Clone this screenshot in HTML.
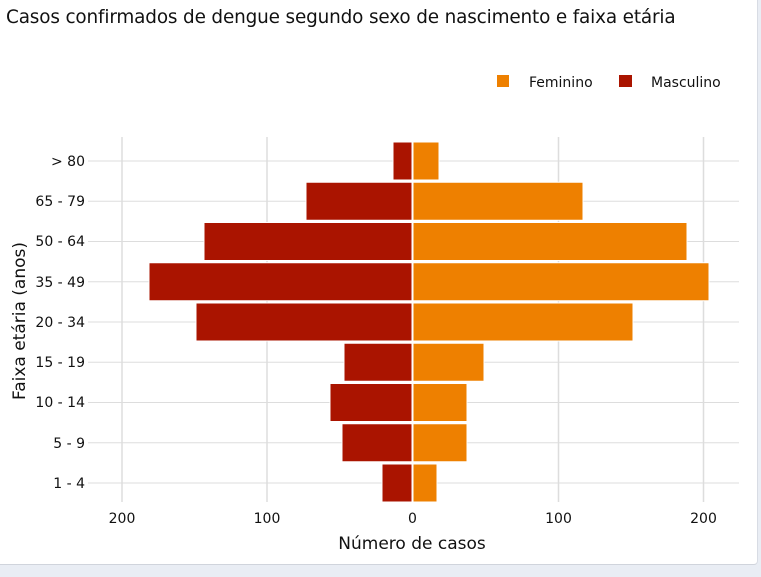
<!DOCTYPE html>
<html><head><meta charset="utf-8"><style>
html,body{margin:0;padding:0;background:#e9edf4;}
.card{position:absolute;left:0;top:0;width:757px;height:564px;background:#fff;border-right:1px solid #d8dce4;border-bottom:1px solid #d0d4dc;border-radius:0 0 4px 0;}
svg{position:absolute;left:0;top:0;font-family:"DejaVu Sans","Liberation Sans",sans-serif;}
</style></head><body>
<div class="card"></div>
<svg width="761" height="577" viewBox="0 0 761 577">
<text x="6" y="23" font-size="18.4" fill="#111" letter-spacing="-0.15">Casos confirmados de dengue segundo sexo de nascimento e faixa etária</text>
<rect x="497" y="75" width="12" height="12" fill="#ee8000"/>
<text x="529" y="87" font-size="14" fill="#111">Feminino</text>
<rect x="619" y="75" width="13" height="12" fill="#aa1400"/>
<text x="651" y="87" font-size="14" fill="#111">Masculino</text>
<g stroke="#dddddd" stroke-width="1.5">
<line x1="122" y1="137" x2="122" y2="502"/><line x1="267" y1="137" x2="267" y2="502"/>
<line x1="558.5" y1="137" x2="558.5" y2="502"/><line x1="703.5" y1="137" x2="703.5" y2="502"/>
</g>
<g stroke="#dddddd" stroke-width="1">
<line x1="88" y1="161" x2="739" y2="161"/><line x1="88" y1="201.25" x2="739" y2="201.25"/>
<line x1="88" y1="241.5" x2="739" y2="241.5"/><line x1="88" y1="281.75" x2="739" y2="281.75"/>
<line x1="88" y1="322" x2="739" y2="322"/><line x1="88" y1="362.25" x2="739" y2="362.25"/>
<line x1="88" y1="402.5" x2="739" y2="402.5"/><line x1="88" y1="442.75" x2="739" y2="442.75"/>
<line x1="88" y1="483" x2="739" y2="483"/>
</g>
<g fill="#aa1400" stroke="#fff" stroke-width="1">
<rect x="393" y="142" width="19" height="38"/>
<rect x="306" y="182.25" width="106" height="38"/>
<rect x="204" y="222.5" width="208" height="38"/>
<rect x="149" y="262.75" width="263" height="38"/>
<rect x="196" y="303" width="216" height="38"/>
<rect x="344" y="343.25" width="68" height="38"/>
<rect x="330" y="383.5" width="82" height="38"/>
<rect x="342" y="423.75" width="70" height="38"/>
<rect x="382" y="464" width="30" height="38"/>
</g>
<g fill="#ee8000" stroke="#fff" stroke-width="1">
<rect x="413" y="142" width="26" height="38"/>
<rect x="413" y="182.25" width="170" height="38"/>
<rect x="413" y="222.5" width="274" height="38"/>
<rect x="413" y="262.75" width="296" height="38"/>
<rect x="413" y="303" width="220" height="38"/>
<rect x="413" y="343.25" width="71" height="38"/>
<rect x="413" y="383.5" width="54" height="38"/>
<rect x="413" y="423.75" width="54" height="38"/>
<rect x="413" y="464" width="24" height="38"/>
</g>
<g font-size="14" fill="#111" text-anchor="end">
<text x="85" y="166">&gt; 80</text><text x="85" y="206">65 - 79</text>
<text x="85" y="246">50 - 64</text><text x="85" y="287">35 - 49</text>
<text x="85" y="327">20 - 34</text><text x="85" y="367">15 - 19</text>
<text x="85" y="407">10 - 14</text><text x="85" y="448">5 - 9</text>
<text x="85" y="488">1 - 4</text>
</g>
<g font-size="14" fill="#111" text-anchor="middle">
<text x="122" y="523">200</text><text x="267" y="523">100</text>
<text x="412.5" y="523">0</text><text x="558.5" y="523">100</text><text x="703.5" y="523">200</text>
</g>
<text x="412" y="549" font-size="17" fill="#111" text-anchor="middle">Número de casos</text>
<text transform="translate(25,321) rotate(-90)" font-size="17" fill="#111" text-anchor="middle">Faixa etária (anos)</text>
</svg>
</body></html>
